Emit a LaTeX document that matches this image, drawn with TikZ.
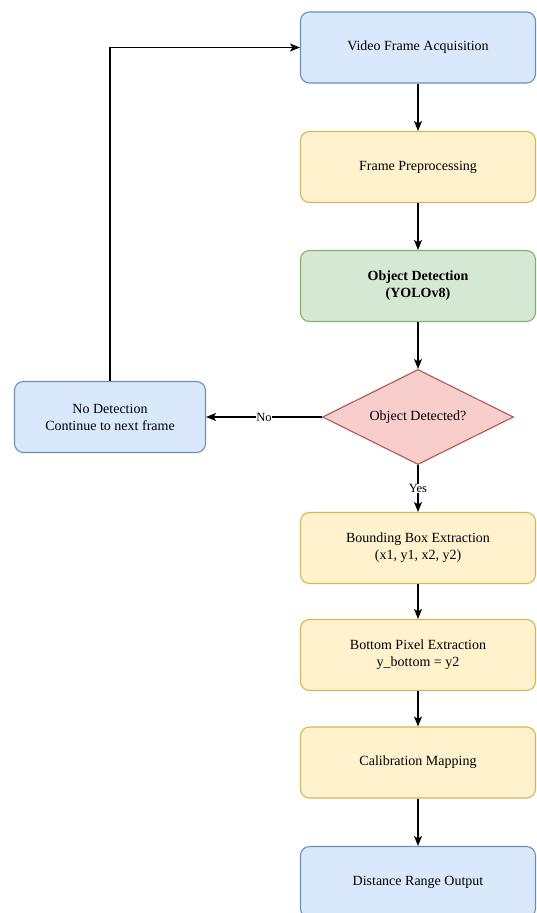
\documentclass[tikz,border=0pt]{standalone}
\usepackage{fontspec}
\setmainfont{Liberation Serif}
\usetikzlibrary{shapes.geometric,arrows.meta}
\definecolor{bluefill}{HTML}{DAE8FC}\definecolor{bluedraw}{HTML}{6C8EBF}
\definecolor{yelfill}{HTML}{FFF2CC}\definecolor{yeldraw}{HTML}{D6B656}
\definecolor{grnfill}{HTML}{D5E8D4}\definecolor{grndraw}{HTML}{82B366}
\definecolor{redfill}{HTML}{F8CECC}\definecolor{reddraw}{HTML}{B85450}
\tikzset{
  box/.style={rectangle, rounded corners=9pt, minimum width=235pt, minimum height=71pt, inner sep=0pt, line width=1.1pt, align=center, font=\fontsize{14}{17}\selectfont},
  bluebox/.style={box, fill=bluefill, draw=bluedraw},
  yelbox/.style={box, fill=yelfill, draw=yeldraw},
  grnbox/.style={box, fill=grnfill, draw=grndraw},
  decision/.style={diamond, aspect=2, minimum width=191pt, minimum height=95pt, inner sep=0pt, fill=redfill, draw=reddraw, line width=1.1pt, font=\fontsize{14}{17}\selectfont},
  arr/.style={-{Stealth[length=10pt,width=8pt,inset=2.5pt]}, line width=1.1pt, black},
  lbl/.style={fill=white, inner sep=0.5pt, font=\fontsize{12.5}{14}\selectfont}
}
\begin{document}
\begin{tikzpicture}[x=1pt,y=-1pt]
\useasboundingbox[fill=white] (0,0) rectangle (536,913);
\node[bluebox] (v1) at (418,47.5) {Video Frame Acquisition};
\node[yelbox] (v2) at (418,167) {Frame Preprocessing};
\node[grnbox] (v3) at (418,286) {\textbf{Object Detection}\\\textbf{(YOLOv8)}};
\node[decision] (d) at (418,417) {Object Detected?};
\node[bluebox, minimum width=191pt] (nd) at (110,417) {No Detection\\Continue to next frame};
\node[yelbox] (b4) at (418,548) {Bounding Box Extraction\\(x1, y1, x2, y2)};
\node[yelbox] (b5) at (418,655) {Bottom Pixel Extraction\\y\_bottom = y2};
\node[yelbox] (b6) at (418,762.5) {Calibration Mapping};
\node[bluebox] (b7) at (418,882) {Distance Range Output};
\draw[arr] (v1) -- (v2);
\draw[arr] (v2) -- (v3);
\draw[arr] (v3) -- (d);
\draw[arr] (d.west) -- node[lbl] {No} (nd.east);
\draw[arr] (d.south) -- node[lbl] {Yes} (b4.north);
\draw[arr] (b4) -- (b5);
\draw[arr] (b5) -- (b6);
\draw[arr] (b6) -- (b7);
\draw[arr] (nd.north) |- (v1.west);
\end{tikzpicture}
\end{document}
